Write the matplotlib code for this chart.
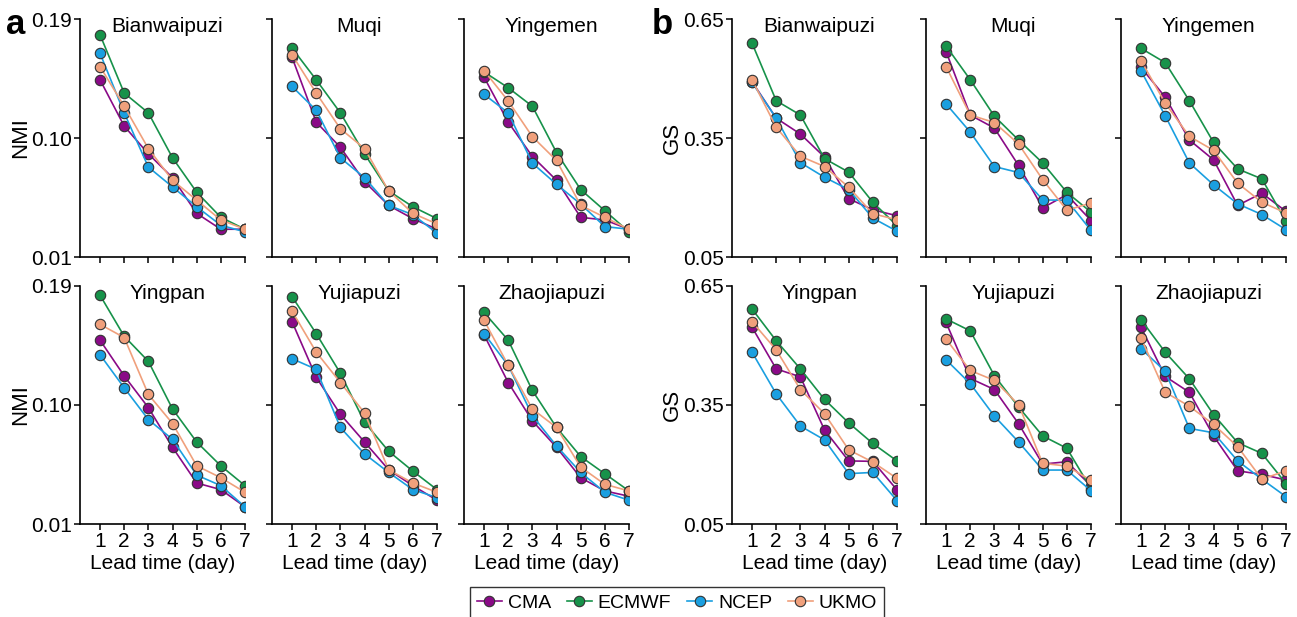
import matplotlib
matplotlib.use("Agg")
import matplotlib.pyplot as plt
from matplotlib.lines import Line2D

plt.rcParams['font.family'] = ['Liberation Sans', 'DejaVu Sans']

lead_days = [1, 2, 3, 4, 5, 6, 7]
stations = ["Bianwaipuzi", "Muqi", "Yingemen", "Yingpan", "Yujiapuzi", "Zhaojiapuzi"]
models = ["CMA", "ECMWF", "NCEP", "UKMO"]
colors = ["#8a0a87", "#17924a", "#1a9fe0", "#f0a07c"]

# NMI values, one list per station (rows: CMA, ECMWF, NCEP, UKMO)
nmi_bianwaipuzi = [[0.144, 0.109, 0.088, 0.070, 0.043, 0.031, 0.031],
                   [0.178, 0.134, 0.119, 0.085, 0.059, 0.040, 0.031],
                   [0.164, 0.119, 0.078, 0.063, 0.048, 0.034, 0.029],
                   [0.154, 0.124, 0.092, 0.068, 0.053, 0.038, 0.031]]
nmi_muqi = [[0.161, 0.112, 0.093, 0.067, 0.049, 0.039, 0.031],
            [0.168, 0.144, 0.119, 0.088, 0.060, 0.048, 0.039],
            [0.139, 0.121, 0.085, 0.070, 0.049, 0.042, 0.028],
            [0.163, 0.134, 0.107, 0.092, 0.060, 0.043, 0.035]]
nmi_yingemen = [[0.146, 0.112, 0.086, 0.068, 0.040, 0.038, 0.031],
                [0.150, 0.138, 0.124, 0.089, 0.061, 0.045, 0.029],
                [0.133, 0.119, 0.081, 0.065, 0.050, 0.033, 0.031],
                [0.151, 0.128, 0.101, 0.083, 0.049, 0.040, 0.031]]
nmi_yingpan = [[0.149, 0.122, 0.098, 0.068, 0.041, 0.036, 0.023],
               [0.183, 0.152, 0.133, 0.097, 0.072, 0.054, 0.039],
               [0.138, 0.113, 0.089, 0.074, 0.047, 0.039, 0.023],
               [0.161, 0.151, 0.108, 0.086, 0.054, 0.045, 0.034]]
nmi_yujiapuzi = [[0.163, 0.121, 0.093, 0.072, 0.051, 0.039, 0.028],
                 [0.182, 0.154, 0.124, 0.087, 0.065, 0.050, 0.036],
                 [0.135, 0.127, 0.083, 0.063, 0.049, 0.036, 0.030],
                 [0.171, 0.140, 0.117, 0.094, 0.051, 0.041, 0.034]]
nmi_zhaojiapuzi = [[0.153, 0.117, 0.088, 0.068, 0.045, 0.035, 0.031],
                   [0.170, 0.149, 0.111, 0.083, 0.061, 0.048, 0.035],
                   [0.154, 0.130, 0.092, 0.069, 0.049, 0.034, 0.028],
                   [0.164, 0.130, 0.097, 0.083, 0.053, 0.040, 0.035]]

# GS values
gs_bianwaipuzi = [[0.492, 0.400, 0.360, 0.302, 0.197, 0.169, 0.154],
                  [0.589, 0.444, 0.408, 0.298, 0.264, 0.188, 0.129],
                  [0.490, 0.400, 0.288, 0.251, 0.220, 0.148, 0.115],
                  [0.497, 0.377, 0.304, 0.278, 0.226, 0.159, 0.144]]
gs_muqi = [[0.568, 0.408, 0.375, 0.281, 0.174, 0.207, 0.142],
           [0.582, 0.497, 0.405, 0.345, 0.287, 0.213, 0.163],
           [0.436, 0.365, 0.278, 0.263, 0.194, 0.193, 0.117],
           [0.530, 0.408, 0.389, 0.335, 0.245, 0.168, 0.186]]
gs_yingemen = [[0.528, 0.453, 0.345, 0.295, 0.180, 0.211, 0.165],
               [0.576, 0.540, 0.444, 0.339, 0.272, 0.247, 0.140],
               [0.519, 0.406, 0.287, 0.232, 0.184, 0.157, 0.119],
               [0.545, 0.438, 0.354, 0.319, 0.236, 0.188, 0.161]]
gs_yingpan = [[0.546, 0.441, 0.421, 0.287, 0.209, 0.208, 0.136],
              [0.592, 0.512, 0.441, 0.364, 0.305, 0.253, 0.209],
              [0.483, 0.378, 0.297, 0.262, 0.177, 0.180, 0.109],
              [0.560, 0.489, 0.389, 0.328, 0.237, 0.206, 0.165]]
gs_yujiapuzi = [[0.558, 0.417, 0.389, 0.303, 0.201, 0.207, 0.146],
                [0.567, 0.537, 0.424, 0.345, 0.272, 0.241, 0.139],
                [0.464, 0.404, 0.322, 0.257, 0.186, 0.186, 0.134],
                [0.516, 0.437, 0.412, 0.351, 0.203, 0.196, 0.160]]
gs_zhaojiapuzi = [[0.546, 0.422, 0.382, 0.272, 0.184, 0.175, 0.161],
                  [0.565, 0.483, 0.416, 0.326, 0.255, 0.228, 0.152],
                  [0.492, 0.435, 0.291, 0.280, 0.209, 0.163, 0.119],
                  [0.519, 0.382, 0.347, 0.301, 0.245, 0.163, 0.184]]

nmi_data = [nmi_bianwaipuzi, nmi_muqi, nmi_yingemen, nmi_yingpan, nmi_yujiapuzi, nmi_zhaojiapuzi]
gs_data = [gs_bianwaipuzi, gs_muqi, gs_yingemen, gs_yingpan, gs_yujiapuzi, gs_zhaojiapuzi]

W, H = 1297, 617
fig = plt.figure(figsize=(W / 100, H / 100), dpi=100)

col_left_a = [80, 272, 464]
col_left_b = [732, 926, 1121]
col_width = 165
row_top = [19, 286]
row_height = 238


def px_axes(left, top, width, height):
    return fig.add_axes([left / W, 1 - (top + height) / H, width / W, height / H])


def draw_panel(col_lefts, data, ylim, yticks, ylabel):
    for i, station in enumerate(stations):
        r, c = divmod(i, 3)
        ax = px_axes(col_lefts[c], row_top[r], col_width, row_height)
        for vals, color in zip(data[i], colors):
            ax.plot(lead_days, vals, color=color, lw=1.2, marker="o", ms=7.5,
                    mfc=color, mec="#333333", mew=0.8)
        ax.set_xlim(0.17, 7)
        ax.set_ylim(*ylim)
        ax.set_xticks(lead_days)
        ax.set_yticks(yticks)
        ax.spines[["top", "right"]].set_visible(False)
        ax.spines[["left", "bottom"]].set_linewidth(1.2)
        ax.tick_params(direction="out", length=4, width=1.1, labelsize=15, pad=2)
        ax.text(0.53, 0.97, station, transform=ax.transAxes, ha="center", va="center",
                fontsize=15)
        if c == 0:
            ax.set_yticklabels([f"{t:.2f}" for t in yticks])
            ax.set_ylabel(ylabel, fontsize=16, labelpad=0)
        else:
            ax.set_yticklabels([])
        if r == 1:
            ax.set_xlabel("Lead time (day)", fontsize=15, labelpad=2)
        else:
            ax.set_xticklabels([])


draw_panel(col_left_a, nmi_data, (0.01, 0.19), [0.01, 0.10, 0.19], "NMI")
draw_panel(col_left_b, gs_data, (0.05, 0.65), [0.05, 0.35, 0.65], "GS")

fig.text(6 / W, 1 - 24 / H, "a", fontsize=25, fontweight="bold", va="center")
fig.text(652 / W, 1 - 24 / H, "b", fontsize=25, fontweight="bold", va="center")

handles = [Line2D([], [], color=cl, lw=1.2, marker="o", ms=7.5, mfc=cl, mec="#333333", mew=0.8)
           for cl in colors]
fig.legend(handles, models, loc="center", bbox_to_anchor=(677 / W, 1 - 603 / H), ncol=4,
           fontsize=14, frameon=True, fancybox=False, edgecolor="black",
           handlelength=1.3, handletextpad=0.3, columnspacing=0.8, borderpad=0.35,
           borderaxespad=0)

fig.savefig("out.png", dpi=100)
